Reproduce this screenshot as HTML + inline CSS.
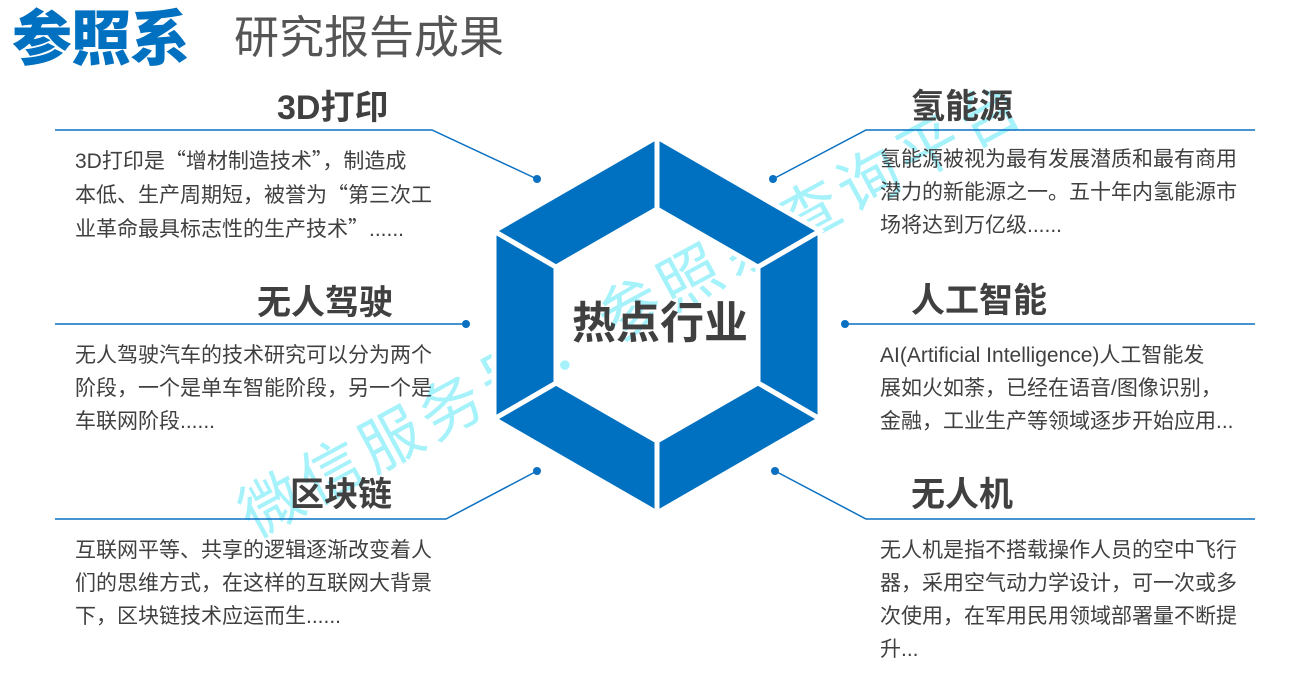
<!DOCTYPE html>
<html><head><meta charset="utf-8"><style>
body{margin:0;width:1309px;height:674px;background:#fff;position:relative;overflow:hidden;font-family:"Liberation Sans","Noto Sans CJK SC",sans-serif;color:#404040}
.a{position:absolute;white-space:nowrap}
.t{font-size:34px;font-weight:bold;line-height:1}
.b{font-size:21px;line-height:33px}
.q{font-family:"Noto Sans CJK SC",sans-serif}
</style></head><body>
<div class="a" style="left:12px;top:10px;font-size:60px;font-weight:900;color:#0070c0;line-height:1;letter-spacing:-1px">参照系</div>
<div class="a" style="left:234px;top:15px;font-size:45px;color:#555;line-height:1">研究报告成果</div>
<div class="a" style="left:245px;top:490px;font-size:62px;color:#a6f2fb;line-height:1;letter-spacing:6px;transform:rotate(-28.5deg);transform-origin:0 50%">微信服务号：参照系查询平台</div>
<svg class="a" style="left:0;top:0" width="1309" height="674">
<g stroke="#0a70c2" stroke-width="1.5" fill="none">
<polyline points="55,130 432,130 537,179"/>
<polyline points="1255,130 866,130 773,179"/>
<polyline points="55,324 466,324"/>
<polyline points="845,324 1255,324"/>
<polyline points="55,519 446,519 537,471"/>
<polyline points="1255,519 866,519 775,471"/>
</g>
<g fill="#0a70c2">
<circle cx="537" cy="179" r="4"/><circle cx="773" cy="179" r="4"/>
<circle cx="466" cy="324" r="4"/><circle cx="845" cy="324" r="4"/>
<circle cx="537" cy="471" r="4"/><circle cx="775" cy="471" r="4"/>
</g>
<g fill="#0070c0" stroke="#fff" stroke-width="5" stroke-linejoin="miter">
<polygon points="657,137 820,231 758,267 657,209"/>
<polygon points="820,231 820,419 758,383 758,267"/>
<polygon points="820,419 657,513 657,441 758,383"/>
<polygon points="657,513 494,419 556,383 657,441"/>
<polygon points="494,419 494,231 556,267 556,383"/>
<polygon points="494,231 657,137 657,209 556,267"/>
</g>
</svg>
<div class="a" style="left:572px;top:302px;font-size:44px;font-weight:bold;line-height:1">热点行业</div>
<div class="a t" style="left:277px;top:91px">3D打印</div>
<div class="a t" style="left:257px;top:286px">无人驾驶</div>
<div class="a t" style="left:290px;top:478px">区块链</div>
<div class="a t" style="left:911px;top:90px">氢能源</div>
<div class="a t" style="left:911px;top:284px">人工智能</div>
<div class="a t" style="left:911px;top:478px">无人机</div>
<div class="a b" style="left:75px;top:144px">3D打印是<span class="q">“</span>增材制造技术<span class="q">”</span>，制造成<br>本低、生产周期短，被誉为<span class="q">“</span>第三次工<br>业革命最具标志性的生产技术<span class="q">”</span>......</div>
<div class="a b" style="left:75px;top:339px">无人驾驶汽车的技术研究可以分为两个<br>阶段，一个是单车智能阶段，另一个是<br>车联网阶段......</div>
<div class="a b" style="left:75px;top:534px">互联网平等、共享的逻辑逐渐改变着人<br>们的思维方式，在这样的互联网大背景<br>下，区块链技术应运而生......</div>
<div class="a b" style="left:880px;top:143px">氢能源被视为最有发展潜质和最有商用<br>潜力的新能源之一。五十年内氢能源市<br>场将达到万亿级......</div>
<div class="a b" style="left:880px;top:339px">AI(Artificial Intelligence)人工智能发<br>展如火如荼，已经在语音/图像识别，<br>金融，工业生产等领域逐步开始应用...</div>
<div class="a b" style="left:880px;top:534px">无人机是指不搭载操作人员的空中飞行<br>器，采用空气动力学设计，可一次或多<br>次使用，在军用民用领域部署量不断提<br>升...</div>
</body></html>
